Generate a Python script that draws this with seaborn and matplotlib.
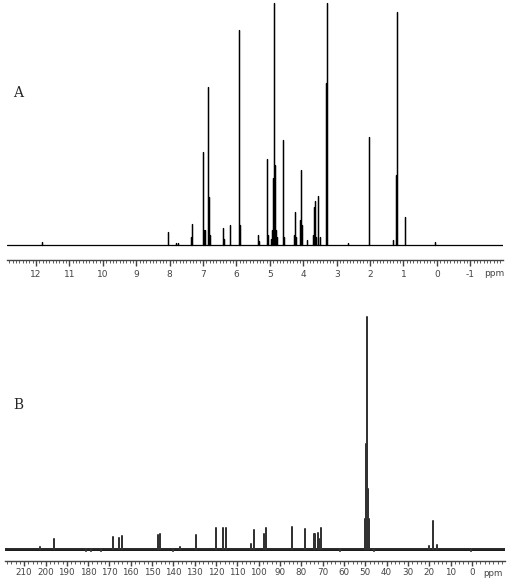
import numpy as np
import pandas as pd
import matplotlib
matplotlib.use("Agg")
import matplotlib.pyplot as plt
from matplotlib.ticker import MultipleLocator
import seaborn as sns

sns.set_style("ticks")
plt.rcParams['font.family'] = ['DejaVu Sans']
plt.rcParams['axes.unicode_minus'] = False

# ---------- 1H spectrum (A): peak position (ppm) and relative intensity ----------
h1_ppm = [11.83, 8.06, 7.80, 7.75, 7.37, 7.34, 7.32,
          7.01, 6.99, 6.97, 6.95, 6.85, 6.84, 6.82, 6.80,
          6.39, 6.37, 6.19, 5.91, 5.89, 5.37, 5.33, 5.10, 5.09, 5.07,
          4.96, 4.93, 4.91, 4.90, 4.88, 4.87, 4.86, 4.84, 4.82, 4.78,
          4.62, 4.60, 4.58, 4.28, 4.25, 4.22, 4.10, 4.08, 4.07, 4.05, 3.90,
          3.70, 3.68, 3.65, 3.62, 3.55, 3.50,
          3.33, 3.32, 3.31, 3.30, 3.29, 3.28, 2.65, 2.03,
          1.30, 1.23, 1.21, 1.20, 1.18, 0.96, 0.94, 0.05]
h1_int = [3, 13, 2, 2, 8, 21, 20,
          20, 93, 15, 15, 20, 159, 48, 10,
          17, 6, 20, 216, 20, 10, 4, 20, 86, 10,
          6, 15, 30, 67, 187, 243, 80, 30, 15, 8,
          10, 105, 8, 10, 33, 8, 25, 30, 75, 20, 5,
          10, 38, 44, 8, 49, 8,
          8, 20, 163, 243, 20, 8, 2, 108,
          5, 12, 70, 234, 20, 28, 8, 3]
h1_ticks = [12, 11, 10, 9, 8, 7, 6, 5, 4, 3, 2, 1, 0, -1]

# ---------- 13C spectrum (B) ----------
c13_ppm = [202.7, 196.1, 181.0, 178.5, 174.0, 168.4, 165.3, 164.0,
           147.3, 146.3, 140.0, 137.0, 129.3, 120.2, 116.6, 115.2,
           103.5, 102.2, 97.5, 96.6, 84.2, 78.5, 74.3, 73.4, 72.2, 71.5, 70.6,
           62.0, 50.1, 49.8, 49.6, 49.45, 49.3, 49.15, 49.0, 48.8, 48.5,
           46.0, 20.0, 18.2, 16.5, 0.5]
c13_int = [2, 10, -2, -2, -2, 12.5, 11, 12.7,
           14, 15, -2, 2, 14, 21, 21, 21,
           5, 19, 15, 21, 22, 20, 15, 15, 16, 10, 21,
           -2, 30, 60, 105, 150, 232, 150, 105, 60, 30,
           -2, 3, 28, 4, -2]
c13_ticks = list(range(210, -1, -10))


def stick_frame(ppm, inten, lo, hi):
    order = np.argsort(ppm)[::-1]
    xs, ys = [hi], [0]
    for i in order:
        xs += [ppm[i], ppm[i], ppm[i]]
        ys += [0, inten[i], 0]
    xs.append(lo)
    ys.append(0)
    return pd.DataFrame({'ppm': xs, 'intensity': ys})


fig = plt.figure(figsize=(5.10, 5.79), dpi=100)
ax1 = fig.add_axes([7/510, 319/579, 496/510, 260/579])
ax2 = fig.add_axes([5/510, 18/579, 500/510, 261/579])

h1_lim = (12.87, -1.98)
c13_lim = (219.0, -15.5)

df1 = stick_frame(h1_ppm, h1_int, h1_lim[1], h1_lim[0])
sns.lineplot(data=df1, x='ppm', y='intensity', sort=False, estimator=None,
             color='black', lw=0.9, ax=ax1)
ax1.set_xlim(*h1_lim)
ax1.set_ylim(-15, 246)

df2 = stick_frame(c13_ppm, c13_int, c13_lim[1], c13_lim[0])
ax2.axhline(0, color='black', lw=2.0)
sns.lineplot(data=df2, x='ppm', y='intensity', sort=False, estimator=None,
             color='#333333', lw=1.1, ax=ax2)
ax2.set_xlim(*c13_lim)
ax2.set_ylim(-12, 249)

for ax, ticks, minor in [(ax1, h1_ticks, 0.1), (ax2, c13_ticks, 2)]:
    ax.set_xticks(ticks)
    ax.set_xticklabels([str(t) for t in ticks])
    ax.xaxis.set_minor_locator(MultipleLocator(minor))
    ax.set_yticks([])
    ax.set_xlabel('')
    ax.set_ylabel('')
    sns.despine(ax=ax, left=True, top=True, right=True)
    ax.spines['bottom'].set_color('#444444')
    ax.spines['bottom'].set_linewidth(1.0)
    ax.tick_params(axis='x', which='minor', length=2, width=0.6, color='#444444')
    ax.patch.set_alpha(0)

ax1.tick_params(axis='x', which='major', length=4, width=1, color='#444444',
                labelsize=6.5, labelcolor='#444444', pad=3)
ax2.tick_params(axis='x', which='major', length=3.5, width=1, color='#444444',
                labelsize=6.3, labelcolor='#444444', pad=1.5)

fig.text(494/510, 1 - 273/579, 'ppm', fontsize=6.5, color='#444444', ha='center', va='center')
fig.text(493/510, 1 - 573/579, 'ppm', fontsize=6.3, color='#444444', ha='center', va='center')

fig.text(18/510, 1 - 93/579, 'A', fontsize=10, family='DejaVu Serif', ha='center', va='center')
fig.text(18/510, 1 - 405/579, 'B', fontsize=10, family='DejaVu Serif', ha='center', va='center')

fig.savefig('out.png', dpi=100, facecolor='white')
